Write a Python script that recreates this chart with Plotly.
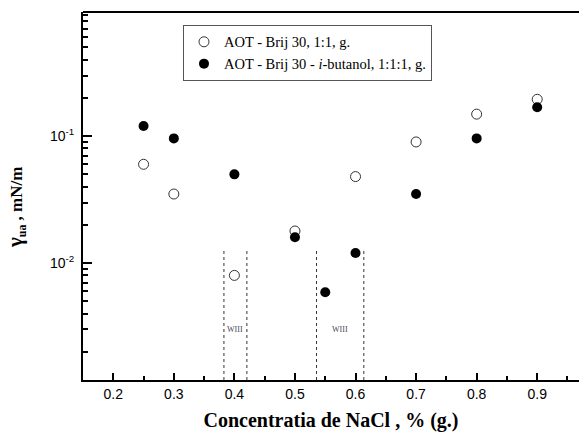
import plotly.graph_objects as go
import math

# data
x_open = [0.25, 0.3, 0.4, 0.5, 0.6, 0.7, 0.8, 0.9]
y_open = [0.060, 0.035, 0.0080, 0.0179, 0.048, 0.090, 0.149, 0.195]
x_fill = [0.25, 0.3, 0.4, 0.5, 0.55, 0.6, 0.7, 0.8, 0.9]
y_fill = [0.120, 0.096, 0.050, 0.0160, 0.0059, 0.0120, 0.035, 0.096, 0.169]
name_open = "AOT - Brij 30, 1:1, g."
name_fill = "AOT - Brij 30 - <i>i</i>-butanol, 1:1:1, g."
wiii_bounds = [(0.3827, 0.4206), (0.5356, 0.6137)]
wiii_label = "WIII"
x_ticks = [0.2, 0.3, 0.4, 0.5, 0.6, 0.7, 0.8, 0.9]
y_ticks = [0.01, 0.1]
y_ticktext = ["10<sup>-2</sup>", "10<sup>-1</sup>"]

y_lo, y_hi = 0.0012, 0.95
line_top = 0.01265

fig = go.Figure()

for a, b in wiii_bounds:
    for xv in (a, b):
        fig.add_trace(go.Scatter(x=[xv, xv], y=[y_lo, line_top], mode="lines",
                                 line=dict(color="#333", width=1, dash="dot"),
                                 showlegend=False, hoverinfo="skip"))

fig.add_trace(go.Scatter(x=x_open, y=y_open, mode="markers", name=name_open,
                         marker=dict(symbol="circle-open", size=10, color="#333",
                                     line=dict(width=1, color="#333"))))
fig.add_trace(go.Scatter(x=x_fill, y=y_fill, mode="markers", name=name_fill,
                         marker=dict(symbol="circle", size=10, color="black")))

for a, b in wiii_bounds:
    fig.add_annotation(x=(a + b) / 2, y=-2.52, xref="x", yref="y", text=wiii_label,
                       showarrow=False, font=dict(family="Liberation Serif", size=8, color="#445"))

minor_vals = [k * 10 ** e for e in (-3, -2, -1) for k in range(2, 10)]

fig.update_layout(
    width=579, height=434,
    margin=dict(l=83, r=0, t=12, b=54),
    paper_bgcolor="white", plot_bgcolor="white",
    font=dict(family="Liberation Sans", size=14, color="black"),
    xaxis=dict(range=[0.15, 0.969], tickvals=x_ticks, ticktext=[f"{v:.1f}" for v in x_ticks],
               ticks="inside", ticklen=7, tickwidth=1.5, tickcolor="black",
               showline=True, linewidth=2, linecolor="black", showgrid=False, zeroline=False,
               minor=dict(dtick=0.05, tick0=0.15, ticks="inside", ticklen=4, tickcolor="black", tickwidth=1.5),
               tickfont=dict(size=14, family="Liberation Sans"),
               title=dict(text="<b>Concentratia de NaCl , % (g.)</b>",
                          font=dict(family="Liberation Serif", size=20), standoff=12)),
    yaxis=dict(type="log", range=[math.log10(y_lo), math.log10(y_hi)],
               tickvals=y_ticks, ticktext=y_ticktext,
               ticks="inside", ticklen=9, tickwidth=1.5, tickcolor="black",
               showline=True, linewidth=2, linecolor="black", showgrid=False, zeroline=False,
               minor=dict(tickvals=minor_vals, ticks="inside", ticklen=5, tickcolor="black", tickwidth=1.5),
               tickfont=dict(size=14, family="Liberation Sans"), ticklabelstandoff=4),
    legend=dict(x=0.2016, y=0.965, xanchor="left", yanchor="top",
                bordercolor="#555", borderwidth=1, bgcolor="white",
                font=dict(family="Liberation Serif", size=14.5)),
    showlegend=True,
)

fig.add_shape(type="line", xref="paper", yref="paper", x0=0, x1=1, y0=1, y1=1,
              line=dict(color="black", width=2))

fig.add_annotation(x=-0.135, y=(434 - 54 - 208) / 368, xref="paper", yref="paper",
                   text="<b><span style='font-size:21px'>γ</span><sub>ua</sub> , mN/m</b>",
                   textangle=-90, showarrow=False,
                   font=dict(family="Liberation Serif", size=17), xanchor="center", yanchor="middle")

fig.write_html("out.html")
